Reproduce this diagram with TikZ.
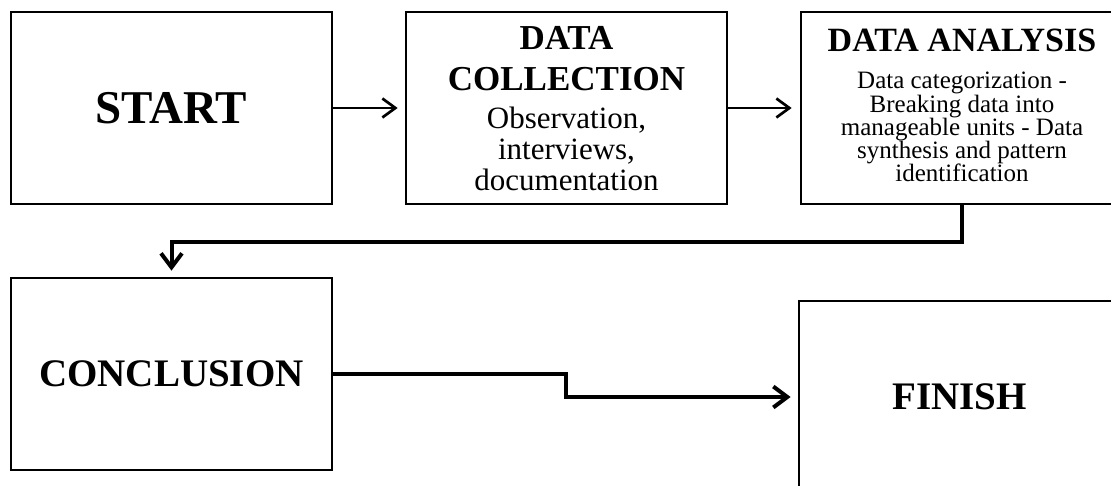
\documentclass[tikz,border=0pt]{standalone}
\usepackage{fontspec}
\setmainfont{Liberation Serif}
\usetikzlibrary{arrows.meta}
\begin{document}
\begin{tikzpicture}[x=1pt,y=-1pt,
  box/.style={draw, line width=2.7pt, minimum width=321pt, minimum height=192pt, inner sep=0pt},
  txt/.style={align=center, anchor=north, inner sep=0pt},
  straightarrow/.style={line width=2.7pt, -{Straight Barb[length=13pt,width=19pt]}},
  bentarrow/.style={line width=4pt, -{Straight Barb[length=14pt,width=21pt]}}]
\path[use as bounding box] (0,0) rectangle (1111,486);
\clip (0,0) rectangle (1111,486);

% boxes
\node[box, font=\fontsize{47}{52}\selectfont\bfseries] (start) at (171.5,108) {START};
\node[box] (dc) at (566.5,108) {};
\node[box] (da) at (961.5,108) {};
\node[box, font=\fontsize{39}{44}\selectfont\bfseries] (conc) at (171.5,374) {CONCLUSION};
\node[box, font=\fontsize{39}{44}\selectfont\bfseries] (fin) at (959.5,397) {FINISH};

% texts inside boxes
\node[txt, font=\fontsize{35}{41}\selectfont\bfseries] (dct) at (566.5,26) {DATA\\COLLECTION};
\node[txt, font=\fontsize{31}{31}\selectfont] (dcd) at (566.5,107) {Observation,\\interviews,\\documentation};
\node[txt, font=\fontsize{34}{40}\selectfont\bfseries] (dat) at (962,29) {DATA ANALYSIS};
\node[txt, font=\fontsize{25}{23.25}\selectfont] (dad) at (962,72) {Data categorization -\\Breaking data into\\manageable units - Data\\synthesis and pattern\\identification};

% connectors
\coordinate (row) at (0,242);
\coordinate (bend) at (566,0);
\draw[straightarrow, shorten >=7pt] (start.east) -- (dc.west);
\draw[straightarrow, shorten >=8pt] (dc.east) -- (da.west);
\draw[bentarrow, shorten >=6pt] (da.south) -- (da.south |- row) -| (conc.north);
\draw[bentarrow, shorten >=7pt] (conc.east) -- (conc.east -| bend) |- (fin.west);
\end{tikzpicture}
\end{document}
